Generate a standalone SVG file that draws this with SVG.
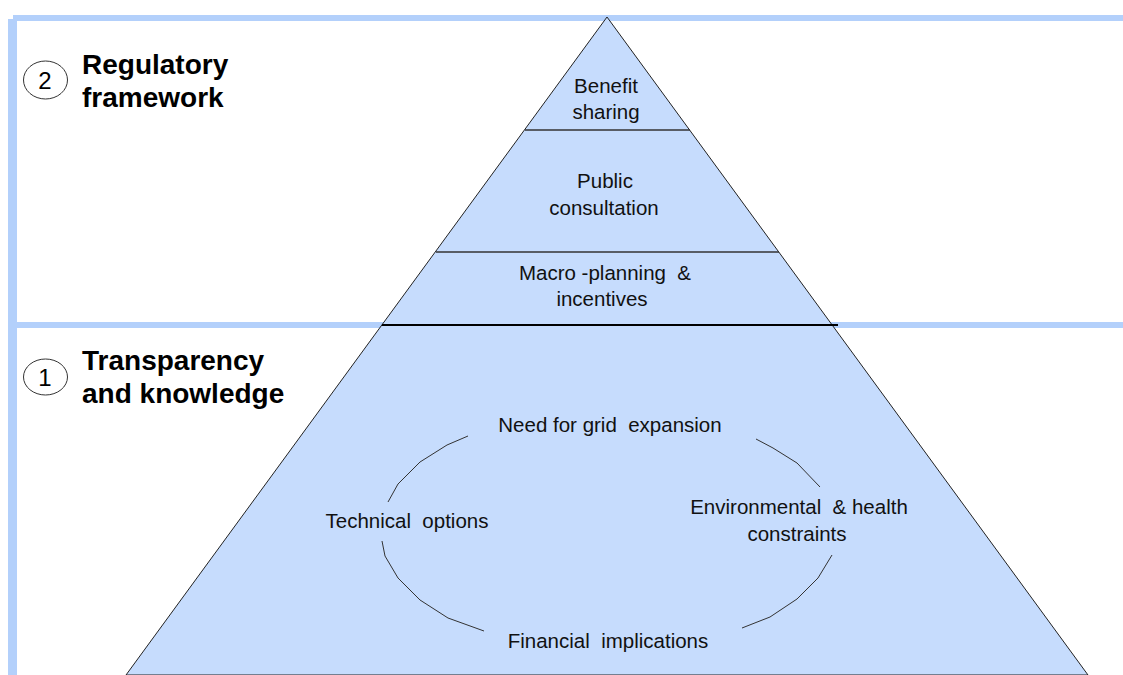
<svg xmlns="http://www.w3.org/2000/svg" width="1123" height="675" viewBox="0 0 1123 675">
<style>
.band{fill:#b3d0fb}
.t{font-family:"Liberation Sans",Arial,sans-serif;font-size:20.5px;fill:#111;text-anchor:middle;white-space:pre}
.h{font-family:"Liberation Sans",Arial,sans-serif;font-size:28px;font-weight:bold;fill:#000}
.n{font-family:"Liberation Sans",Arial,sans-serif;font-size:24px;fill:#000;text-anchor:middle}
.arc{fill:none;stroke:#333;stroke-width:1}
.ring{fill:#fff;stroke:#333;stroke-width:1}
</style>
<rect width="1123" height="675" fill="#fff"/>
<g id="bands">
<rect class="band" x="13" y="15" width="1110" height="6"/>
<rect class="band" x="8" y="19" width="9" height="656"/>
<rect class="band" x="17" y="322" width="1106" height="6"/>
</g>
<g id="pyramid">
<polygon points="607,17 126,675 1088,675" fill="#c6dcfd" stroke="#222" stroke-width="1"/>
<line x1="525" y1="130" x2="690" y2="130" stroke="#333" stroke-width="1.3"/>
<line x1="436" y1="252" x2="779" y2="252" stroke="#333" stroke-width="1.3"/>
<line x1="382" y1="325" x2="838" y2="325" stroke="#000" stroke-width="2"/>
</g>
<g id="node-benefit"><text class="t" x="606" y="93">Benefit</text><text class="t" x="606" y="119">sharing</text></g>
<g id="node-public"><text class="t" x="605" y="188">Public</text><text class="t" x="604" y="215">consultation</text></g>
<g id="node-macro"><text class="t" x="605" y="280">Macro -planning  &amp;</text><text class="t" x="602" y="306">incentives</text></g>
<g id="label-2"><ellipse class="ring" cx="45.5" cy="80" rx="22" ry="19"/><text class="n" x="45" y="89">2</text><text class="h" x="82" y="74">Regulatory</text><text class="h" x="82" y="107">framework</text></g>
<g id="label-1"><ellipse class="ring" cx="45.5" cy="377" rx="22" ry="18"/><text class="n" x="45" y="386">1</text><text class="h" x="82" y="370">Transparency</text><text class="h" x="82" y="403">and knowledge</text></g>
<g id="node-grid"><text class="t" x="610" y="432">Need for grid  expansion</text></g>
<g id="node-tech"><text class="t" x="407" y="528">Technical  options</text></g>
<g id="node-env"><text class="t" x="799" y="514">Environmental  &amp; health</text><text class="t" x="797" y="541">constraints</text></g>
<g id="node-fin"><text class="t" x="608" y="648">Financial  implications</text></g>
<g id="connectors">
<polyline class="arc" points="468,436 447,445 420,462 398,484 388,502"/>
<polyline class="arc" points="382,541 385,556 398,578 420,600 448,618 484,631"/>
<polyline class="arc" points="756,439 773,448 797,463 820,487"/>
<polyline class="arc" points="832,555 818,578 797,599 770,617 742,628"/>
</g>
</svg>
